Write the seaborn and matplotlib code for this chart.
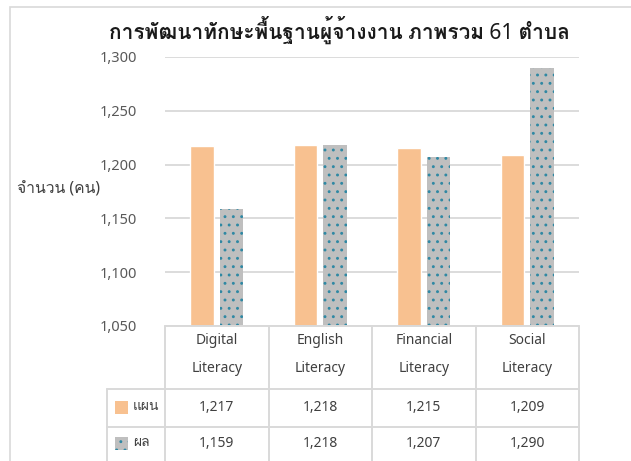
import matplotlib
matplotlib.use("Agg")
import matplotlib.pyplot as plt
import seaborn as sns
import pandas as pd
from matplotlib import font_manager
from matplotlib.patches import Rectangle
from matplotlib.ticker import FuncFormatter

# chart data
title = "การพัฒนาทักษะพื้นฐานผู้จ้างงาน ภาพรวม 61 ตำบล"
y_label = "จำนวน (คน)"
categories = ["Digital Literacy", "English Literacy", "Financial Literacy", "Social Literacy"]
series_names = ["แผน", "ผล"]
plan = [1217, 1218, 1215, 1209]
actual = [1159, 1218, 1207, 1290]
y_ticks = [1050, 1100, 1150, 1200, 1250, 1300]

orange = "#F8C190"
gray = "#BFBFBF"
dot_color = "#2F88A3"
line_color = "#D9D9D9"
text_color = "#404040"


def find_thai_font():
    # look for any installed font that has Thai glyphs
    try:
        from fontTools.ttLib import TTFont
    except ImportError:
        return None
    for f in font_manager.fontManager.ttflist:
        try:
            cmap = TTFont(f.fname, fontNumber=0, lazy=True).getBestCmap()
        except Exception:
            continue
        if cmap and 0x0E01 in cmap:
            return f.name
    return None


sns.set_style("white")
thai = find_thai_font()
families = ["Noto Sans"] + ([thai] if thai else []) + ["DejaVu Sans"]
plt.rcParams["font.family"] = families
plt.rcParams["hatch.linewidth"] = 0.9

W, H = 631, 461


def fx(px):
    return px / W


def fy(py):
    return 1 - py / H


fig = plt.figure(figsize=(W / 100, H / 100), dpi=100)

# main bar axes
ax = fig.add_axes([fx(165), fy(326), fx(579) - fx(165), fy(57) - fy(326)])
df = pd.DataFrame({
    "category": categories * 2,
    "series": [s for s in series_names for _ in categories],
    "value": plan + actual,
})
sns.barplot(data=df, x="category", y="value", hue="series", palette=[orange, gray],
            width=0.57, gap=0.22, saturation=1, legend=False, ax=ax)
for patch in ax.containers[1]:
    patch.set_hatch("..")
    patch.set_edgecolor(dot_color)
    patch.set_linewidth(0)

ax.set_ylim(y_ticks[0], y_ticks[-1])
ax.set_yticks(y_ticks)
ax.yaxis.set_major_formatter(FuncFormatter(lambda v, p: f"{int(v):,}"))
ax.set_xlim(-0.5, len(categories) - 0.5)
ax.set_xticks(range(len(categories)))
ax.set_xticklabels([])
ax.set_xlabel("")
ax.set_ylabel("")
ax.tick_params(axis="both", length=0)
ax.tick_params(axis="y", pad=20, labelsize=10.5, labelcolor="#595959")
ax.yaxis.grid(True, color=line_color, lw=1.3)
ax.set_axisbelow(True)
sns.despine(ax=ax, left=True, bottom=True)

# data table under the plot
unit = (579 - 165) / len(categories)


def xd(px):
    return -0.5 + (px - 165) / unit


tax = fig.add_axes([fx(107), 0, fx(579) - fx(107), fy(326)])
tax.set_xlim(xd(107), xd(579))
tax.set_ylim(461, 326)
tax.axis("off")

lw = 1.4
right = len(categories) - 0.5
tax.plot([-0.5, right], [326, 326], color=line_color, lw=lw, clip_on=False)
for yy in [389, 427]:
    tax.plot([xd(107), right], [yy, yy], color=line_color, lw=lw, clip_on=False)
for i in range(len(categories) + 1):
    tax.plot([i - 0.5, i - 0.5], [326, 470], color=line_color, lw=lw, clip_on=False)
tax.plot([xd(107), xd(107)], [389, 470], color=line_color, lw=lw, clip_on=False)

for i, cat in enumerate(categories):
    first, second = cat.split(" ")
    tax.text(i, 341, first, ha="center", va="center", fontsize=10, color=text_color)
    tax.text(i, 369, second, ha="center", va="center", fontsize=10, color=text_color)
    tax.text(i, 407, f"{plan[i]:,}", ha="center", va="center", fontsize=10, color=text_color)
    tax.text(i, 443, f"{actual[i]:,}", ha="center", va="center", fontsize=10, color=text_color)

key_w = 13 / unit
tax.add_patch(Rectangle((xd(115), 401), key_w, 13, facecolor=orange, lw=0))
tax.add_patch(Rectangle((xd(115), 437), key_w, 13, facecolor=gray, edgecolor=dot_color,
                        hatch="..", lw=0))
tax.text(xd(133), 406, series_names[0], ha="left", va="center", fontsize=10, color=text_color)
tax.text(xd(133), 442, series_names[1], ha="left", va="center", fontsize=10, color=text_color)

# title, axis label and chart border
fig.text(fx(339), fy(30), title, ha="center", va="center", fontsize=15,
         fontweight="bold", color="#1A1A1A")
fig.text(fx(17), fy(190), y_label, ha="left", va="center", fontsize=11.3, color=text_color)
fig.patches.append(Rectangle((fx(10), -0.1), 1.2, fy(7) + 0.1, transform=fig.transFigure,
                             fill=False, edgecolor=line_color, lw=1.2, figure=fig))

fig.savefig("out.png", dpi=100)
